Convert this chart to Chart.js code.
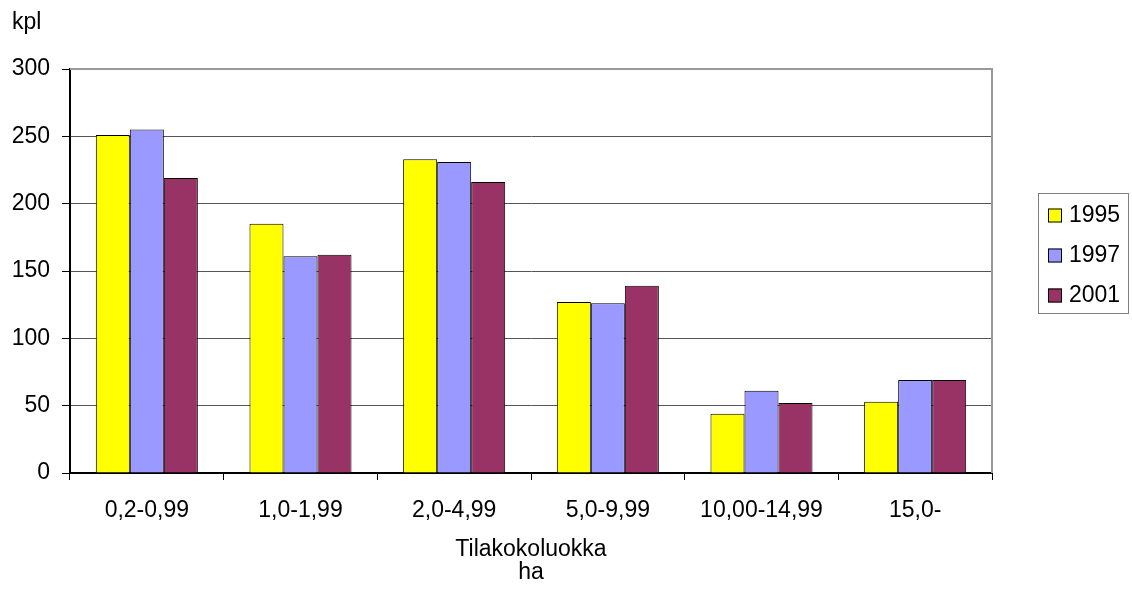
<!DOCTYPE html>
<html>
<head>
<meta charset="utf-8">
<script src="https://cdn.jsdelivr.net/npm/chart.js@4/dist/chart.umd.min.js"></script>
<style>
  html, body { margin: 0; padding: 0; background: #fff; }
  #wrap { width: 1132px; height: 592px; }
</style>
</head>
<body>
<div id="wrap"><canvas id="c" width="1132" height="592"></canvas></div>
<script>
// Tilakokoluokat (ha) ja tilojen lukumäärät vuosittain
const categories = ['0,2-0,99', '1,0-1,99', '2,0-4,99', '5,0-9,99', '10,00-14,99', '15,0-'];
const years = ['1995', '1997', '2001'];
const values1995 = [251, 185, 233, 127, 44, 53];
const values1997 = [255, 161, 231, 126, 61, 69];
const values2001 = [219, 162, 216, 139, 52, 69];
const yTicks = [0, 50, 100, 150, 200, 250, 300];

const colors = ['#FFFF00', '#9999FF', '#993366'];
const FONT = 'Liberation Sans, Arial, sans-serif';
const FONT_SIZE = 23;

// Vasemman yläkulman yksikkö ja kehystetty selite
const extras = {
  id: 'extras',
  afterDraw(chart) {
    const ctx = chart.ctx;
    const area = chart.chartArea;
    ctx.save();
    // kuvaajan yläreuna ja oikea reuna
    ctx.strokeStyle = '#999999';
    ctx.lineWidth = 2;
    ctx.beginPath();
    ctx.moveTo(area.left, area.top);
    ctx.lineTo(area.right, area.top);
    ctx.lineTo(area.right, area.bottom);
    ctx.stroke();

    ctx.fillStyle = '#000';
    ctx.font = FONT_SIZE + 'px ' + FONT;
    ctx.textAlign = 'left';
    ctx.textBaseline = 'alphabetic';
    ctx.fillText('kpl', 12, 29);

    // selite
    ctx.strokeStyle = '#808080';
    ctx.lineWidth = 1;
    ctx.strokeRect(1038.5, 193.5, 90, 120);
    chart.data.datasets.forEach((ds, i) => {
      const cy = 215.5 + i * 40;
      ctx.fillStyle = ds.backgroundColor;
      ctx.fillRect(1048, cy - 7, 14, 14);
      ctx.strokeStyle = '#000';
      ctx.strokeRect(1048.5, cy - 6.5, 13, 13);
      ctx.fillStyle = '#000';
      ctx.textBaseline = 'middle';
      ctx.fillText(ds.label, 1069, cy);
    });
    ctx.restore();
  }
};

new Chart(document.getElementById('c'), {
  type: 'bar',
  data: {
    labels: categories,
    datasets: [
      { label: years[0], data: values1995, backgroundColor: colors[0] },
      { label: years[1], data: values1997, backgroundColor: colors[1] },
      { label: years[2], data: values2001, backgroundColor: colors[2] }
    ].map(d => Object.assign(d, {
      borderColor: '#000',
      borderWidth: 1,
      categoryPercentage: 0.664,
      barPercentage: 1.0
    }))
  },
  options: {
    responsive: false,
    animation: false,
    devicePixelRatio: 1,
    layout: { padding: { top: 69, right: 140, left: 0, bottom: 0 } },
    plugins: {
      legend: { display: false },
      tooltip: { enabled: false }
    },
    scales: {
      x: {
        offset: true,
        grid: {
          offset: true,
          drawOnChartArea: false,
          drawTicks: true,
          tickLength: 7,
          color: '#000',
          lineWidth: 1
        },
        border: { display: true, color: '#000', width: 2 },
        ticks: {
          color: '#000',
          font: { family: FONT, size: FONT_SIZE },
          padding: 17,
          maxRotation: 0,
          autoSkip: false
        },
        title: {
          display: true,
          text: ['Tilakokoluokka', 'ha'],
          color: '#000',
          font: { family: FONT, size: FONT_SIZE, lineHeight: 1.0 },
          padding: { top: 0, bottom: 8 }
        },
        afterFit(scale) { scale.height = 119; }
      },
      y: {
        min: 0,
        max: 300,
        afterBuildTicks(scale) { scale.ticks = yTicks.map(v => ({ value: v })); },
        grid: {
          color: '#555555',
          lineWidth: 1,
          drawTicks: true,
          tickLength: 8,
          tickColor: '#000'
        },
        border: { display: true, color: '#000', width: 2 },
        ticks: {
          color: '#000',
          font: { family: FONT, size: FONT_SIZE },
          padding: 12
        },
        afterFit(scale) { scale.width = 70; }
      }
    }
  },
  plugins: [extras]
});
</script>
</body>
</html>
